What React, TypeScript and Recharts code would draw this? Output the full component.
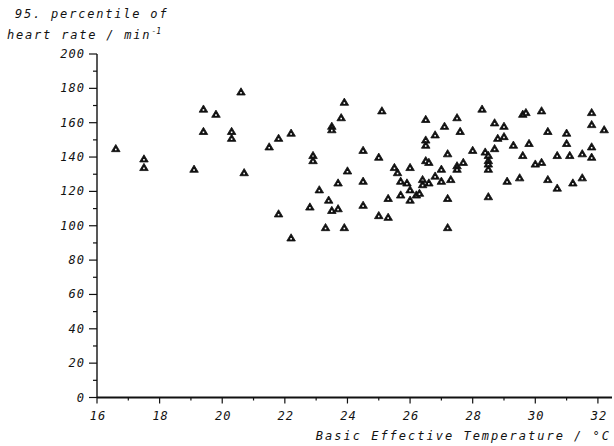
import { ScatterChart, Scatter, XAxis, YAxis } from "recharts"

// Basic Effective Temperature (°C), one entry per subject
const temperature = [
  16.6, 17.5, 17.5, 19.1, 19.4, 19.8, 19.4, 20.3, 20.3, 20.6, 20.7, 21.5, 21.8, 22.2, 21.8, 22.2,
  22.8, 22.9, 22.9, 23.1, 23.3, 23.4, 23.5, 23.5, 23.5, 23.7, 23.7, 23.8, 23.9, 23.9, 24.0,
  24.5, 24.5, 24.5, 25.0, 25.0, 25.1, 25.3, 25.3, 25.5, 25.6, 25.7, 25.7, 25.9, 26.0, 26.0, 26.0,
  26.2, 26.3, 26.4, 26.4, 26.5, 26.5, 26.5, 26.5, 26.6, 26.6, 26.8, 26.8, 27.0, 27.0, 27.1,
  27.2, 27.2, 27.2, 27.3, 27.5, 27.5, 27.5, 27.6, 27.7, 28.0,
  28.3, 28.4, 28.5, 28.5, 28.5, 28.5, 28.5, 28.7, 28.7, 28.8, 29.0, 29.0, 29.1, 29.3, 29.5,
  29.6, 29.7, 29.6, 29.8, 30.0, 30.2, 30.2, 30.4, 30.4, 30.7, 30.7, 31.0, 31.0, 31.1, 31.2,
  31.5, 31.5, 31.8, 31.8, 31.8, 31.8, 32.2,
]

// 95th percentile of heart rate (min-1), same order as temperature
const heartRate = [
  145, 139, 134, 133, 168, 165, 155, 155, 151, 178, 131, 146, 151, 154, 107, 93,
  111, 141, 138, 121, 99, 115, 158, 156, 109, 125, 110, 163, 172, 99, 132,
  144, 126, 112, 140, 106, 167, 116, 105, 134, 131, 126, 118, 125, 134, 121, 115,
  118, 119, 127, 124, 162, 150, 147, 138, 137, 125, 153, 129, 133, 126, 158,
  142, 116, 99, 127, 163, 135, 133, 155, 137, 144,
  168, 143, 141, 138, 136, 133, 117, 160, 145, 151, 158, 152, 126, 147, 128,
  165, 166, 141, 148, 136, 167, 137, 155, 127, 141, 122, 154, 148, 141, 125,
  142, 128, 166, 159, 146, 140, 156,
]

const xTicks = [16, 17, 18, 19, 20, 21, 22, 23, 24, 25, 26, 27, 28, 29, 30, 31, 32]
const yTicks = [0, 10, 20, 30, 40, 50, 60, 70, 80, 90, 100, 110, 120, 130, 140, 150, 160, 170, 180, 190, 200]

const data = temperature.map((t, i) => ({ t, hr: heartRate[i] }))

const FONT = "'DejaVu Sans Mono', monospace"
const LEFT = 97
const BOTTOM = 397.5

function Marker({ cx, cy }: any) {
  return (
    <g>
      <path
        d={`M${cx},${cy - 4} L${cx + 4.3},${cy + 3.2} L${cx - 4.3},${cy + 3.2} Z`}
        fill="#111"
        stroke="#111"
        strokeWidth={0.8}
        strokeLinejoin="round"
      />
      <rect x={cx - 0.8} y={cy + 0.2} width={1.6} height={1.6} fill="#fff" />
    </g>
  )
}

function XTick({ payload, x }: any) {
  const v = payload.value
  const px = payload.coordinate ?? x
  const major = v % 2 === 0
  return (
    <g>
      <line x1={px} x2={px} y1={BOTTOM} y2={BOTTOM + (major ? 6 : 3)} stroke="#111" strokeWidth={1.2} />
      {major && (
        <text x={px + 1} y={BOTTOM + 22} textAnchor="middle" fontFamily={FONT} fontStyle="italic"
          fontSize={12} letterSpacing={1} fill="#111">
          {v}
        </text>
      )}
    </g>
  )
}

function YTick({ payload, y }: any) {
  const v = payload.value
  const py = payload.coordinate ?? y
  const major = v % 20 === 0
  return (
    <g>
      <line x1={LEFT - (major ? 8 : 4)} x2={LEFT} y1={py} y2={py} stroke="#111" strokeWidth={1.2} />
      {major && (
        <text x={LEFT - 12} y={py + 4} textAnchor="end" fontFamily={FONT} fontStyle="italic"
          fontSize={12} letterSpacing={1} fill="#111">
          {v}
        </text>
      )}
    </g>
  )
}

export default function App() {
  return (
    <div style={{ position: "absolute", left: 0, top: 0, width: 614, height: 446, background: "#fff" }}>
      <div style={{ position: "absolute", left: 0, top: 0, fontFamily: FONT, fontStyle: "italic",
        fontSize: 12, letterSpacing: 1.8, color: "#111", lineHeight: "17px" }}>
        <div style={{ position: "absolute", left: 15, top: 6, whiteSpace: "nowrap" }}>95. percentile of</div>
        <div style={{ position: "absolute", left: 7, top: 23, whiteSpace: "nowrap" }}>
          heart rate / min<sup style={{ fontSize: 8, letterSpacing: 0 }}>-1</sup>
        </div>
      </div>
      <ScatterChart width={614} height={446} margin={{ top: 54, right: 2, bottom: 0, left: 0 }}>
        <XAxis
          type="number"
          dataKey="t"
          domain={[16, 32.45]}
          ticks={xTicks}
          interval={0}
          height={48.5}
          tickLine={false}
          axisLine={{ stroke: "#111", strokeWidth: 1.8 }}
          tick={<XTick />}
        />
        <YAxis
          type="number"
          dataKey="hr"
          domain={[0, 200]}
          ticks={yTicks}
          interval={0}
          width={97}
          tickLine={false}
          axisLine={{ stroke: "#111", strokeWidth: 1.4 }}
          tick={<YTick />}
        />
        <Scatter data={data} isAnimationActive={false} shape={<Marker />} />
      </ScatterChart>
      <div style={{ position: "absolute", right: 3, top: 429, fontFamily: FONT, fontStyle: "italic",
        fontSize: 12, letterSpacing: 2, color: "#111", whiteSpace: "nowrap" }}>
        Basic Effective Temperature / °C
      </div>
    </div>
  )
}
